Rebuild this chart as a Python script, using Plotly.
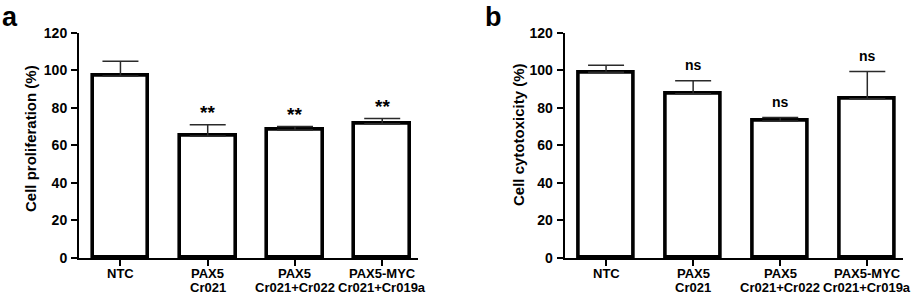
import plotly.graph_objects as go

categories = ["NTC", "PAX5<br>Cr021", "PAX5<br>Cr021+Cr022", "PAX5-MYC<br>Cr021+Cr019a"]
prolif_mean = [97, 65, 68.2, 71.5]
prolif_err = [7.8, 6.0, 1.8, 2.8]
prolif_sig = ["", "**", "**", "**"]
cyto_mean = [98.9, 87.5, 73, 84.8]
cyto_err = [3.8, 6.9, 1.8, 14.5]
cyto_sig = ["", "ns", "ns", "ns"]
y_ticks = [0, 20, 40, 60, 80, 100, 120]

FONT = "Liberation Sans, Arial, sans-serif"
idx = list(range(len(categories)))

fig = go.Figure()

def add_panel(means, errs, xa, ya):
    fig.add_trace(go.Bar(
        x=idx, y=means, width=0.64,
        marker=dict(color="white", line=dict(color="black", width=3.6)),
        error_y=dict(type="data", array=errs, arrayminus=[0]*len(errs), symmetric=False,
                     color="#2a2a2a", thickness=1.5, width=18),
        xaxis=xa, yaxis=ya, showlegend=False, hoverinfo="skip"))

add_panel(prolif_mean, prolif_err, "x", "y")
add_panel(cyto_mean, cyto_err, "x2", "y2")

ydom = [1 - 258/295, 1 - 32.7/295]
xcommon = dict(range=[-0.475, 3.41], tickvals=idx, showticklabels=False, showline=True,
               linecolor="black", linewidth=2, ticks="outside", ticklen=6, tickwidth=2,
               tickcolor="black", showgrid=False, zeroline=False, automargin=False)
ycommon = dict(range=[0, 120], tickvals=y_ticks, showline=True, linecolor="black", linewidth=2,
               ticks="outside", ticklen=6, tickwidth=2, tickcolor="black", showgrid=False,
               zeroline=False, domain=ydom, automargin=False, ticklabelstandoff=1,
               tickfont=dict(family=FONT, size=14, color="black", weight="bold"))

fig.update_layout(
    width=913, height=295, margin=dict(l=0, r=0, t=0, b=0, autoexpand=False),
    plot_bgcolor="white", paper_bgcolor="white", bargap=0,
    xaxis=dict(domain=[79/913, 418/913], anchor="y", **xcommon),
    yaxis=dict(anchor="x", **ycommon),
    xaxis2=dict(domain=[564.7/913, 903/913], anchor="y2", **xcommon),
    yaxis2=dict(anchor="x2", **ycommon),
)

anns = []
for xr, yr in (("x", "y"), ("x2", "y2")):
    for i, cat in enumerate(categories):
        for j, line in enumerate(cat.split("<br>")):
            anns.append(dict(x=i, y=0, xref=xr, yref=yr, text=line, showarrow=False,
                             xanchor="center", yanchor="middle", yshift=-15 - 14*j,
                             font=dict(family=FONT, size=13, color="black", weight="bold")))

for i, (m, e, s) in enumerate(zip(prolif_mean, prolif_err, prolif_sig)):
    if s:
        anns.append(dict(x=i, y=m + e, xref="x", yref="y", text=s, showarrow=False,
                         yanchor="bottom", yshift=0,
                         font=dict(family=FONT, size=19, color="black", weight="bold")))
for i, (m, e, s) in enumerate(zip(cyto_mean, cyto_err, cyto_sig)):
    if s:
        anns.append(dict(x=i, y=m + e, xref="x2", yref="y2", text=s, showarrow=False,
                         yanchor="bottom", yshift=6,
                         font=dict(family=FONT, size=14, color="black", weight="bold")))

anns.append(dict(x=30/913, y=1 - 139/295, xref="paper", yref="paper",
                 text="Cell proliferation (%)", textangle=-90, showarrow=False,
                 xanchor="center", yanchor="middle",
                 font=dict(family=FONT, size=15, color="black", weight="bold")))
anns.append(dict(x=518/913, y=1 - 135/295, xref="paper", yref="paper",
                 text="Cell cytotoxicity (%)", textangle=-90, showarrow=False,
                 xanchor="center", yanchor="middle",
                 font=dict(family=FONT, size=15, color="black", weight="bold")))
anns.append(dict(x=0, y=1, xref="paper", yref="paper", text="a", showarrow=False,
                 xanchor="left", yanchor="top", yshift=0,
                 font=dict(family=FONT, size=27, color="black", weight="bold")))
anns.append(dict(x=483/913, y=1, xref="paper", yref="paper", text="b", showarrow=False,
                 xanchor="left", yanchor="top", yshift=0,
                 font=dict(family=FONT, size=27, color="black", weight="bold")))
fig.update_layout(annotations=anns)

fig.write_html("out.html", config={"displayModeBar": False},
               post_script="document.body.style.margin='0';document.body.style.overflow='hidden';")
